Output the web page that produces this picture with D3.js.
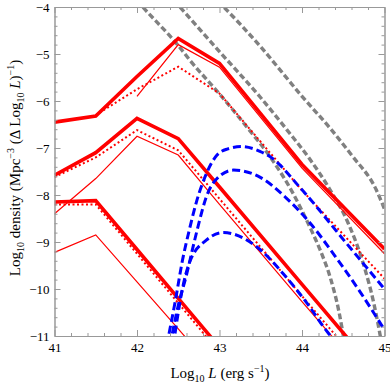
<!DOCTYPE html>
<html>
<head>
<meta charset="utf-8">
<script src="https://cdn.jsdelivr.net/npm/d3@7"></script>
<style>
  body { margin: 0; background: #fff; }
  svg { display: block; }
  text { font-family: "Liberation Serif", "Times New Roman", serif; }
</style>
</head>
<body>
<script>
// chart values (x = log10 L, y = log10 density)

// red broken power laws share these knots
let redKnots = [41, 41.5, 42, 42.5, 43, 44, 45];
let redThick1 = [-6.45, -6.32, -5.48, -4.67, -5.2, -7.35, -9.15];
let redDot1 = [null, -6.3, -5.75, -5.27, -5.84, -7.9, -9.78];
let redThin1 = [null, null, -5.9, -4.8, -5.28, -7.43, -9.25];

let redThick2 = [-7.58, -7.1, -6.37, -6.8, -7.83, -9.9, -11.97];
let redDot2 = [-7.62, -7.2, -6.62, -7.05, -8.08, -10.15, -12.2];
let redThin2 = [-8.4, -7.65, -6.75, -7.15, -8.2, -10.27, -12.3];

let redThick3 = [-8.15, -8.12, -9.16, -10.2, -11.24, null, null];
let redDot3 = [-8.2, -8.2, -9.25, -10.3, -11.35, null, null];
let redThin3 = [-9.22, -8.85, -9.85, -10.85, -11.85, null, null];

// blue dashed bumps
let blue1L = [42.36, 42.47, 42.55, 42.64, 42.72, 42.84, 42.97, 43.1, 43.27, 43.49, 43.61, 44.0, 44.54, 45];
let blue1V = [-11.2, -10.2, -9.4, -8.7, -8.15, -7.55, -7.15, -7.02, -6.97, -7.07, -7.18, -7.89, -9.03, -10.0];
let blue2L = [42.4, 42.5, 42.6, 42.68, 42.76, 42.84, 42.97, 43.17, 43.5, 43.8, 44.1, 44.4, 44.7, 45];
let blue2V = [-11.2, -10.35, -9.7, -9.1, -8.53, -8.04, -7.65, -7.47, -7.63, -8.05, -8.6, -9.3, -10.05, -10.87];
let blue3L = [42.44, 42.5, 42.54, 42.64, 42.84, 43.05, 43.45, 43.77, 44.06, 44.32, 44.4];
let blue3V = [-11.2, -10.5, -10.09, -9.42, -8.96, -8.8, -9.1, -9.67, -10.3, -10.94, -11.1];

// gray dashed cut-off curves
let grayAL = [42.0, 42.07, 42.5, 42.64, 43.0, 43.33, 43.61, 43.89, 44.1, 44.22, 44.35, 44.45, 44.52];
let grayAV = [-3.86, -4.0, -4.82, -5.13, -5.85, -6.55, -7.18, -7.96, -8.7, -9.17, -9.8, -10.5, -11.2];
let grayBL = [42.45, 42.52, 43.0, 43.49, 43.82, 44.1, 44.34, 44.56, 44.75, 44.87, 44.97];
let grayBV = [-3.86, -4.0, -4.95, -5.91, -6.62, -7.25, -7.89, -8.6, -9.5, -10.3, -11.2];
let grayCL = [42.98, 43.05, 43.5, 44.0, 44.36, 44.6, 44.9, 45];
let grayCV = [-3.88, -4.0, -4.85, -5.9, -6.62, -7.15, -7.89, -8.3];

// axis ticks
let xMajor = [41, 42, 43, 44, 45];
let yMajor = [-11, -10, -9, -8, -7, -6, -5, -4];

let width = 390, height = 386;
let plotLeft = 54.5, plotRight = 384.5, plotTop = 7, plotBottom = 336;

let svg = d3.select('body').append('svg')
    .attr('width', width).attr('height', height);

let x = d3.scaleLinear().domain([41, 45]).range([plotLeft, plotRight]);
let y = d3.scaleLinear().domain([-11, -4]).range([plotBottom, plotTop]);

svg.append('clipPath').attr('id', 'plot')
    .append('rect')
    .attr('x', plotLeft).attr('y', plotTop)
    .attr('width', plotRight - plotLeft).attr('height', plotBottom - plotTop);

let plot = svg.append('g').attr('clip-path', 'url(#plot)');

let line = d3.line()
    .defined(d => d[1] != null)
    .x(d => x(d[0])).y(d => y(d[1]));
let smooth = d3.line()
    .x(d => x(d[0])).y(d => y(d[1]))
    .curve(d3.curveMonotoneX);

function pairs(ls, vs) { return ls.map((l, i) => [l, vs[i]]) }

// gray first, underneath everything
[[grayAL, grayAV], [grayBL, grayBV], [grayCL, grayCV]].forEach(g => {
    plot.append('path')
        .attr('d', smooth(pairs(g[0], g[1])))
        .attr('fill', 'none').attr('stroke', '#808080')
        .attr('stroke-width', 3.4).attr('stroke-dasharray', '6,3');
});

// red lines
let reds = [
    [redThick1, 3.6, null], [redDot1, 2, '2,2.5'], [redThin1, 1.2, null],
    [redThick2, 3.6, null], [redDot2, 2, '2,2.5'], [redThin2, 1.2, null],
    [redThick3, 3.6, null], [redDot3, 2, '2,2.5'], [redThin3, 1.2, null]
];
reds.forEach(r => {
    plot.append('path')
        .attr('d', line(pairs(redKnots, r[0])))
        .attr('fill', 'none').attr('stroke', '#ff0000')
        .attr('stroke-width', r[1])
        .attr('stroke-dasharray', r[2]);
});

// blue dashed
[[blue1L, blue1V], [blue2L, blue2V], [blue3L, blue3V]].forEach(b => {
    plot.append('path')
        .attr('d', smooth(pairs(b[0], b[1])))
        .attr('fill', 'none').attr('stroke', '#0000ff')
        .attr('stroke-width', 3).attr('stroke-dasharray', '8,4');
});

// frame with inward ticks on all four sides
let xMinor = d3.range(41, 45.001, 0.2).filter(v => Math.abs(v - Math.round(v)) > 0.01);
let yMinor = d3.range(-11, -3.999, 0.2).filter(v => Math.abs(v - Math.round(v)) > 0.01);

function frameAxis(axis, ticks, size, labels, pad) {
    return axis.tickValues(ticks).tickSize(-size).tickSizeOuter(0).tickPadding(pad)
        .tickFormat(labels ? d => d3.format('d')(d) : '');
}

let axes = [
    [d3.axisBottom, 'translate(0,' + plotBottom + ')', x, xMajor, xMinor, true, 7],
    [d3.axisTop, 'translate(0,' + plotTop + ')', x, xMajor, xMinor, false, 3],
    [d3.axisLeft, 'translate(' + plotLeft + ',0)', y, yMajor, yMinor, true, 5],
    [d3.axisRight, 'translate(' + plotRight + ',0)', y, yMajor, yMinor, false, 3]
];
axes.forEach(a => {
    svg.append('g').attr('transform', a[1])
        .call(frameAxis(a[0](a[2]), a[4], 3, false, 3));
    let g = svg.append('g').attr('transform', a[1])
        .call(frameAxis(a[0](a[2]), a[3], 6, a[5], a[6]));
    g.attr('font-family', null);
    g.selectAll('text').attr('font-size', 13).attr('fill', '#000');
});
svg.selectAll('.domain').attr('stroke', '#999');
svg.selectAll('.tick line').attr('stroke', '#999');

// axis titles
let xt = svg.append('text')
    .attr('x', 220).attr('y', 378)
    .attr('text-anchor', 'middle').attr('font-size', 15);
xt.append('tspan').text('Log');
xt.append('tspan').attr('font-size', 10).attr('dy', 4).text('10');
xt.append('tspan').attr('dy', -4).text(' ');
xt.append('tspan').attr('font-style', 'italic').text('L');
xt.append('tspan').text('  (erg s');
xt.append('tspan').attr('font-size', 10).attr('dy', -6).text('\u22121');
xt.append('tspan').attr('dy', 6).text(')');

let yt = svg.append('text')
    .attr('transform', 'translate(20,168) rotate(-90)')
    .attr('text-anchor', 'middle').attr('font-size', 15);
yt.append('tspan').text('Log');
yt.append('tspan').attr('font-size', 10).attr('dy', 4).text('10');
yt.append('tspan').attr('dy', -4).text(' density (Mpc');
yt.append('tspan').attr('font-size', 10).attr('dy', -6).text('\u22123');
yt.append('tspan').attr('dy', 6).text(' (\u0394 Log');
yt.append('tspan').attr('font-size', 10).attr('dy', 4).text('10');
yt.append('tspan').attr('dy', -4).text(' ');
yt.append('tspan').attr('font-style', 'italic').text('L');
yt.append('tspan').text(')');
yt.append('tspan').attr('font-size', 10).attr('dy', -6).text('\u22121');
yt.append('tspan').attr('dy', 6).text(')');
</script>
</body>
</html>
